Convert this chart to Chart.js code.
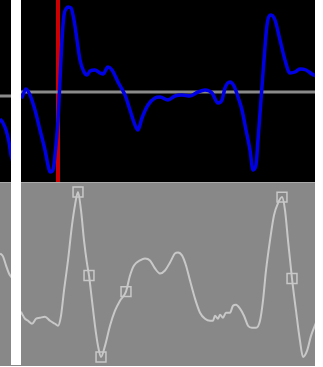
<!DOCTYPE html>
<html>
<head>
<meta charset="utf-8">
<script src="https://cdn.jsdelivr.net/npm/chart.js@4"></script>
<style>
  html, body { margin: 0; padding: 0; background: #fff; }
  #wrap { position: relative; width: 323px; height: 367px; overflow: hidden; }
  #topChart { position: absolute; left: 0; top: 0; background: #000; }
  #bottomChart { position: absolute; left: 0; top: 183px; background: #888; }
  #divider { position: absolute; left: 0; top: 182px; width: 315px; height: 1px; background: #aaa; }
  #sweep { position: absolute; left: 11px; top: 0; width: 10px; height: 365px; background: #fff; }
</style>
</head>
<body>
<div id="wrap">
  <canvas id="topChart" width="315" height="182"></canvas>
  <div id="divider"></div>
  <canvas id="bottomChart" width="315" height="183"></canvas>
  <div id="sweep"></div>
</div>
<script>
// upper trace (blue), old sweep left of the cursor and new sweep right of it
const oldSweepX = [0, 3, 6, 9, 11, 13];
const oldSweepY = [-27, -31, -38, -50, -63, -70];
const leadX = [21, 22, 26, 30, 35, 40, 45, 48, 50, 53, 55, 58, 60, 62, 64, 66, 68, 71, 74, 77, 80, 84, 87, 90, 95,
  100, 103, 108, 112, 118, 125, 130, 135, 138, 142, 148, 155, 160, 168, 175, 182, 190, 198, 205, 212, 218, 222,
  225, 230, 234, 238, 242, 246, 250, 253, 256, 258, 261, 264, 267, 271, 275, 280, 285, 290, 295, 300, 306, 312, 316];
const leadY = [-6, -5, 3, -3, -18, -38, -58, -73, -80, -78, -63, -28, 12, 52, 77, 83, 85, 84, 72, 52, 32, 20, 17, 21, 22,
  19, 18, 25, 22, 10, -3, -18, -33, -38, -26, -13, -6, -5, -8, -4, -3, -4, 0, 2, -1, -11, -8,
  4, 10, 6, -5, -18, -38, -58, -78, -73, -48, -8, 32, 67, 77, 72, 52, 32, 19, 20, 23, 22, 18, 16];
const baseOld = -4;
const baseNew = 0;
const cursorX = 58;

// lower trace (light grey) with marked samples
const lowOldX = [0, 3, 6, 9, 11, 13];
const lowOldY = [112, 109, 100, 92, 89, 87];
const lowX = [21, 22, 25, 28, 32, 36, 40, 45, 50, 55, 58, 61, 64, 68, 72, 75, 78, 81, 84, 87, 89, 92, 95, 98, 101,
  105, 110, 115, 120, 126, 130, 134, 140, 145, 150, 155, 160, 165, 170, 175, 178, 182, 186, 190, 195, 200,
  205, 210, 213, 215, 218, 220, 223, 226, 230, 233, 236, 240, 244, 248, 252, 256, 260, 263, 266, 270, 274,
  278, 282, 285, 288, 292, 296, 300, 303, 307, 311, 316];
const lowY = [54, 52, 47, 45, 42, 47, 48, 49, 45, 42, 40, 50, 75, 105, 140, 160, 173, 155, 125, 102, 90, 65, 40, 20, 9,
  20, 40, 55, 65, 74, 90, 100, 105, 107, 105, 97, 92, 95, 103, 112, 113, 110, 100, 85, 67, 53,
  47, 45, 45, 50, 47, 51, 48, 53, 53, 60, 61, 57, 50, 40, 38, 38, 45, 65, 95, 125, 150,
  162, 168, 155, 125, 87, 55, 25, 9, 15, 30, 43];
const markX = [78, 89, 101, 126, 282, 292];
const markY = [173, 90, 9, 74, 168, 87];

const pts = (xs, ys) => xs.map((x, i) => ({ x: x, y: ys[i] }));

const hiddenScales = (ymin, ymax) => ({
  x: { type: "linear", min: 0, max: 315, display: false },
  y: { type: "linear", min: ymin, max: ymax, display: false }
});

const baseOpts = {
  responsive: false,
  animation: false,
  events: [],
  layout: { padding: 0, autoPadding: false },
  plugins: { legend: { display: false }, tooltip: { enabled: false } },
  elements: { point: { radius: 0 } }
};

new Chart(document.getElementById("topChart"), {
  type: "line",
  data: {
    datasets: [
      { data: pts(leadX, leadY), borderColor: "#0000e6", borderWidth: 3.5, cubicInterpolationMode: "monotone" },
      { data: pts(oldSweepX, oldSweepY), borderColor: "#0000e6", borderWidth: 3.5, cubicInterpolationMode: "monotone" },
      { data: pts([21, 315], [baseNew, baseNew]), borderColor: "#8a8a8a", borderWidth: 3 },
      { data: pts([0, 11], [baseOld, baseOld]), borderColor: "#8a8a8a", borderWidth: 3 },
      { data: pts([cursorX, cursorX], [-90, 92]), borderColor: "#cc0000", borderWidth: 4 }
    ]
  },
  options: Object.assign({}, baseOpts, { scales: hiddenScales(-90, 92) })
});

new Chart(document.getElementById("bottomChart"), {
  type: "line",
  data: {
    datasets: [
      { data: pts(markX, markY), showLine: false, pointStyle: "rect", pointRadius: 7,
        borderColor: "#c8c8c8", borderWidth: 1.5, backgroundColor: "rgba(0,0,0,0)" },
      { data: pts(lowX, lowY), borderColor: "#c8c8c8", borderWidth: 2, cubicInterpolationMode: "monotone" },
      { data: pts(lowOldX, lowOldY), borderColor: "#c8c8c8", borderWidth: 2, cubicInterpolationMode: "monotone" }
    ]
  },
  options: Object.assign({}, baseOpts, { scales: hiddenScales(0, 182) })
});
</script>
</body>
</html>
